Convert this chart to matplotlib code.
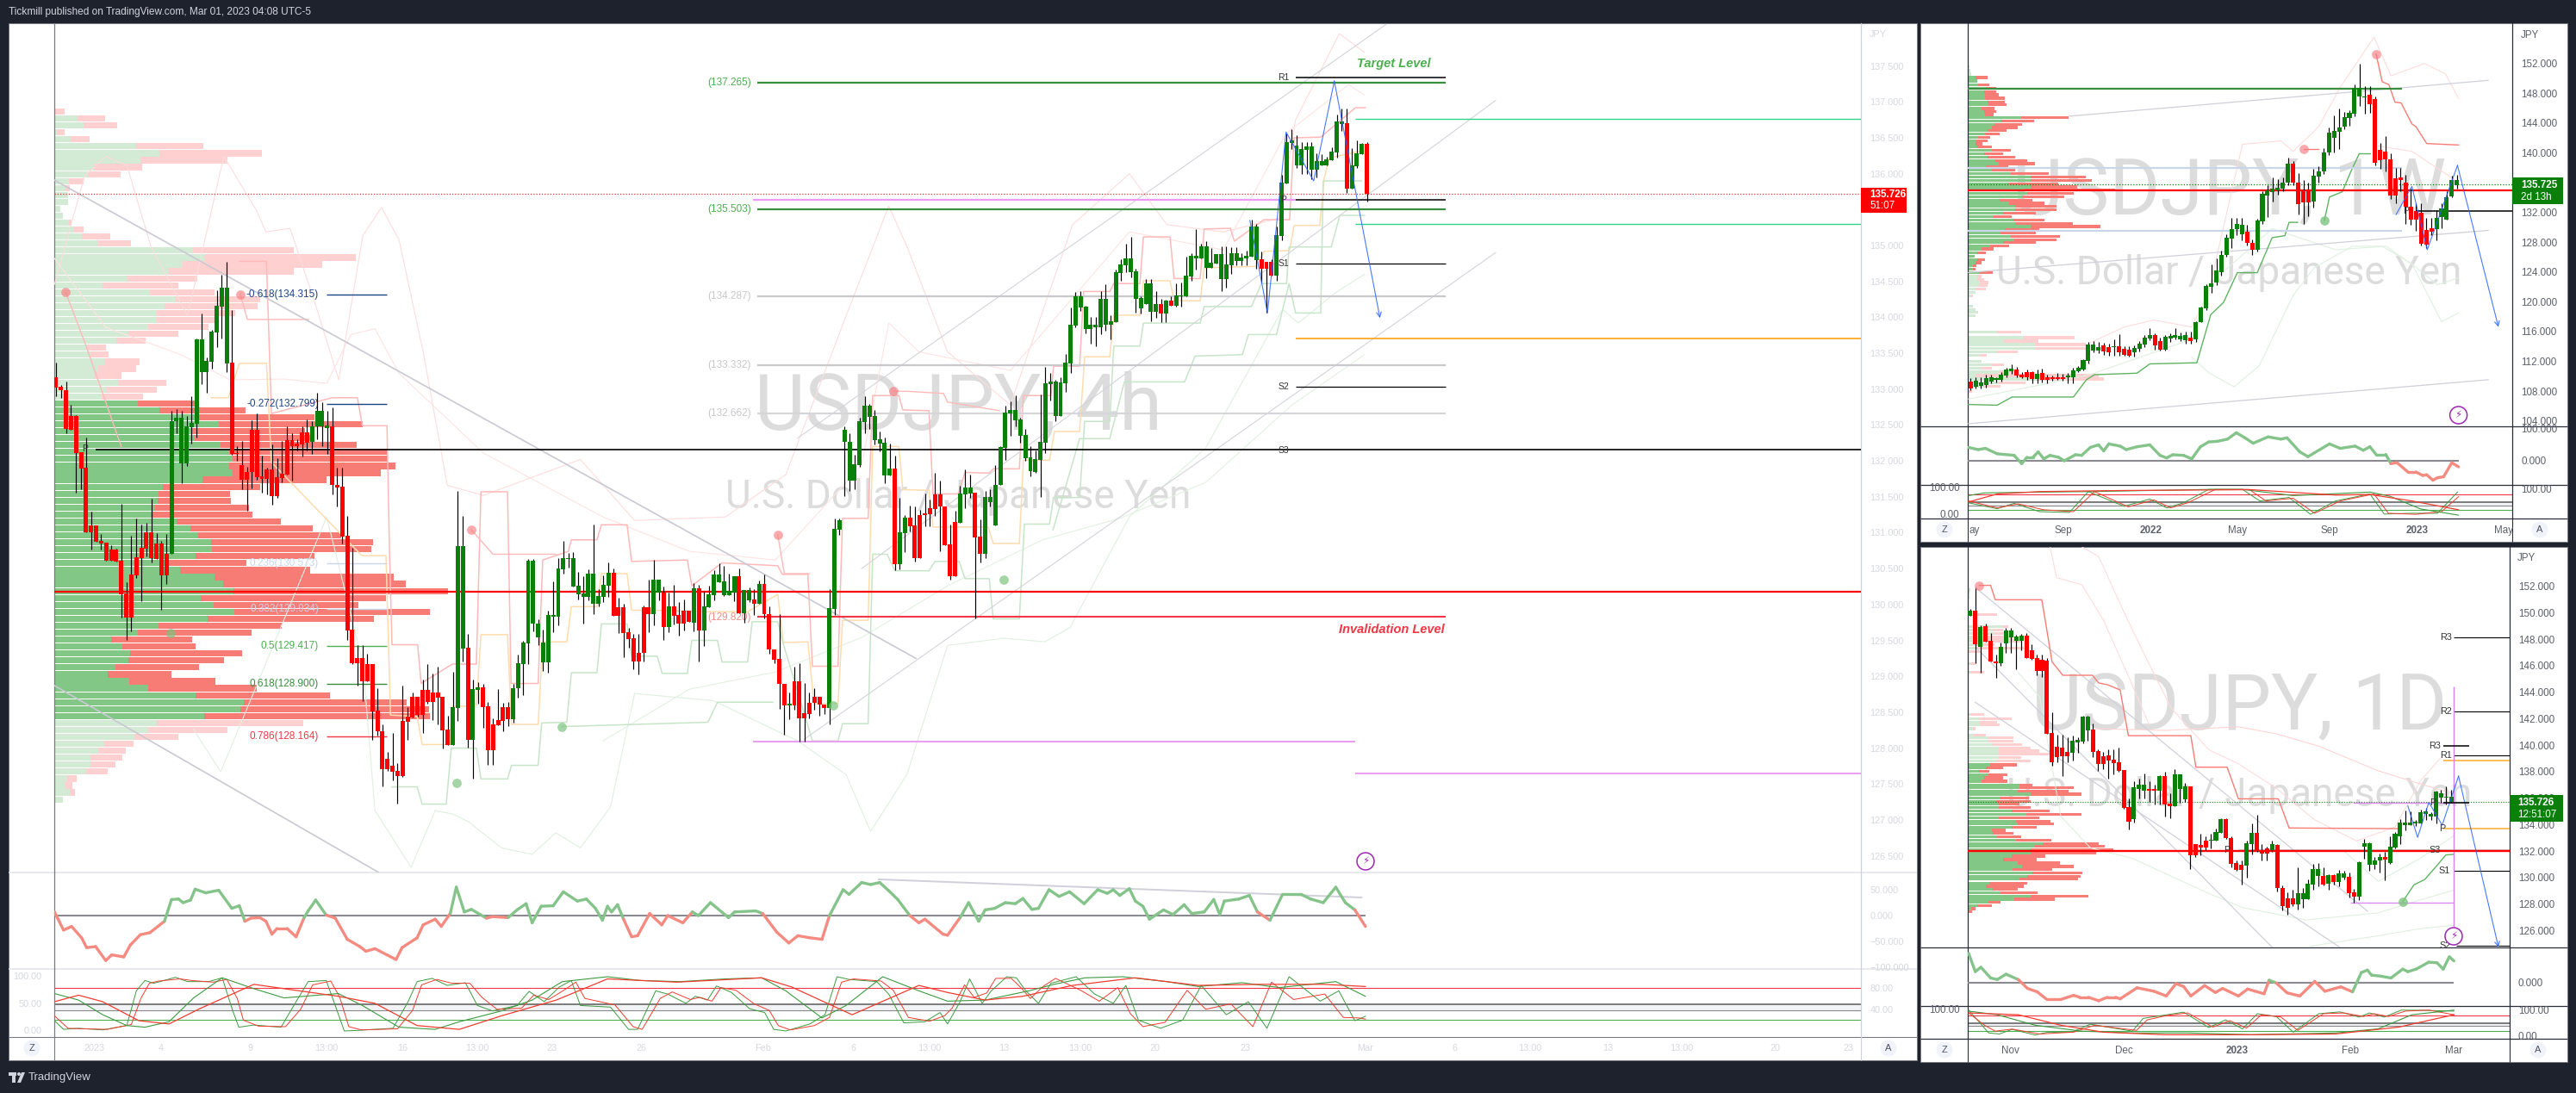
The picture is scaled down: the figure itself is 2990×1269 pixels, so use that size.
import numpy as np
import matplotlib
matplotlib.use("Agg")
import matplotlib.pyplot as plt
from matplotlib.collections import LineCollection
from matplotlib.patches import Rectangle, Circle, Polygon

W, H = 2990, 1269
plt.rcParams["font.family"] = ["Liberation Sans", "DejaVu Sans"]

# ---- 4h candles, one line = ten bars
open_4h = [
    133.17,133.03,132.99,132.62,132.62,132.12,131.9,131.1,131.1,130.88,
    130.86,130.77,130.77,130.61,130.15,130.42,130.66,130.79,131.0,131.0,
    130.85,130.85,130.7,130.7,132.55,131.97,131.97,132.47,132.52,133.24,
    133.24,133.38,133.79,134.15,133.36,133.37,132.11,131.94,131.85,132.43,
    132.43,131.78,131.88,131.88,131.77,131.82,132.29,132.29,132.24,132.4,
    132.4,132.26,132.48,132.48,132.46,132.48,131.67,131.64,130.96,129.65,
    129.25,129.25,129.17,129.17,128.52,128.24,127.85,127.76,127.68,128.38,
    128.44,128.71,128.71,128.81,128.81,128.78,128.78,128.71,128.26,128.04,
    128.56,129.39,129.4,128.12,128.81,128.85,128.58,128.33,128.39,128.57,
    128.57,128.4,128.84,129.17,129.46,129.74,129.54,129.19,129.19,129.83,
    129.83,130.49,130.63,130.25,130.14,130.11,130.11,130.01,130.01,130.11,
    130.26,130.44,129.96,129.96,129.61,129.53,129.33,129.96,129.96,129.87,
    130.17,130.17,129.69,129.98,129.85,129.91,129.91,129.75,130.22,129.64,
    129.96,130.13,130.31,130.13,130.13,130.17,130.39,129.88,130.06,130.07,
    130.01,130.29,129.87,129.38,129.24,128.9,128.6,128.93,128.93,128.49,
    128.63,128.71,128.71,128.61,128.56,129.94,131.04,132.27,131.73,131.73,
    131.94,132.54,132.61,132.29,132.24,131.8,131.8,131.89,130.56,130.99,
    131.21,131.1,131.25,131.27,131.34,131.53,131.53,131.37,130.84,131.15,
    131.14,131.53,131.54,131.56,130.95,130.71,131.42,131.1,131.66,132.18,
    132.66,132.56,132.35,132.04,131.86,131.85,132.01,132.25,133.07,132.62,
    132.62,133.08,133.36,133.89,134.14,133.84,133.84,133.86,133.86,133.9,
    133.9,133.93,134.62,134.72,134.63,134.26,134.12,134.19,134.08,134.08,
    134.18,134.05,134.23,134.16,134.29,134.29,134.57,134.82,134.82,134.69,
    134.69,134.75,134.53,134.53,134.72,134.79,134.79,134.82,134.85,134.8,
    134.81,134.77,134.77,134.58,135.13,135.87,136.43,136.12,136.12,136.33,
    136.06,136.06,136.12,136.12,136.19,136.3,136.69,136.7,135.79,136.11,
    136.27,136.42]
close_4h = [
    133.02,132.98,132.44,132.43,132.11,131.89,131.0,131.0,130.87,130.85,
    130.61,130.61,130.6,130.14,129.82,129.82,130.41,130.64,130.78,130.64,
    130.63,130.41,130.41,132.55,132.6,132.6,132.48,132.53,133.69,133.69,
    133.39,133.8,134.16,134.41,134.41,132.1,132.1,131.74,131.74,131.84,
    131.77,131.75,131.75,131.51,131.51,131.76,131.81,132.2,132.2,132.23,
    132.25,132.48,132.7,132.7,132.49,131.66,131.63,130.95,129.64,129.18,
    129.18,128.93,128.93,128.51,128.24,127.71,127.71,127.67,127.61,127.61,
    128.37,128.43,128.46,128.46,128.64,128.64,128.7,128.25,128.04,128.57,
    130.81,130.81,128.12,128.82,128.85,128.57,127.97,127.97,128.32,128.38,
    128.4,128.84,129.18,129.47,130.61,130.61,129.74,129.47,129.86,129.86,
    130.5,130.64,130.64,130.64,130.26,130.15,130.43,130.43,130.12,130.27,
    130.44,129.84,129.84,129.6,129.52,129.21,129.21,129.33,129.87,130.34,
    130.34,129.69,129.98,129.84,129.73,129.73,129.76,130.22,129.64,129.97,
    130.14,130.42,130.42,130.32,130.19,130.39,129.88,130.2,130.2,130.01,
    130.29,129.87,129.38,129.23,128.89,128.6,128.6,128.6,128.41,128.41,
    128.48,128.63,128.61,128.56,129.95,131.05,131.17,132.43,132.27,131.95,
    132.55,132.77,132.77,132.62,132.3,132.25,131.89,130.56,131.0,131.21,
    131.09,130.65,130.65,131.25,131.26,131.33,131.37,130.82,130.39,130.39,
    131.54,131.63,131.63,130.93,130.71,131.5,131.5,131.67,132.19,132.67,
    132.71,132.71,132.58,132.36,132.05,132.03,132.26,133.08,133.11,133.1,
    133.09,133.37,133.9,134.29,134.29,134.15,133.9,133.9,134.26,134.26,
    133.94,134.63,134.74,134.82,134.82,134.64,134.27,134.47,134.47,134.18,
    134.05,134.23,134.16,134.3,134.3,134.58,134.86,134.86,134.99,134.99,
    134.76,134.88,134.88,134.74,134.89,134.89,134.83,134.86,135.26,135.26,
    134.68,134.68,134.58,135.14,135.88,136.44,136.46,136.39,136.34,136.38,
    136.38,136.18,136.18,136.2,136.31,136.73,136.73,135.79,136.12,136.28,
    136.42,135.72]
high_4h = [
    133.37,133.06,133.1,132.78,132.64,132.12,132.33,131.29,131.1,130.98,
    130.86,130.82,130.78,131.4,130.31,130.96,131.2,131.11,131.14,131.47,
    130.99,130.89,130.98,132.7,132.72,132.7,132.62,132.9,133.71,134.05,
    133.44,133.82,134.38,134.59,134.77,134.1,132.21,132.28,131.92,132.57,
    132.66,132.07,131.9,132.23,132.04,132.28,132.48,132.38,132.3,132.48,
    132.58,132.55,132.95,132.82,132.7,132.75,131.9,131.9,131.23,130.79,
    129.44,129.43,129.31,129.17,128.83,128.33,127.95,128.21,127.79,128.87,
    128.57,128.77,128.71,128.96,129.17,129.04,129.13,128.71,128.45,129.06,
    131.58,131.23,129.59,128.96,128.92,128.9,128.64,128.41,128.82,128.63,
    128.64,128.89,129.3,129.49,130.63,130.63,129.79,129.65,129.91,130.32,
    130.64,130.88,130.72,130.73,130.45,130.39,130.49,131.11,130.21,130.4,
    130.58,130.5,130.1,130.01,129.67,129.59,129.59,129.99,130.34,130.62,
    130.34,130.25,130.17,130.27,130.03,130.07,129.91,130.3,130.27,130.19,
    130.26,130.48,130.57,130.54,130.43,130.39,130.5,130.2,130.24,130.21,
    130.33,130.42,129.97,129.38,129.87,128.9,128.78,129.14,129.18,128.91,
    128.77,128.83,128.71,128.61,130.21,131.2,131.2,132.48,132.38,132.09,
    132.6,132.9,132.79,132.71,132.41,132.32,132.24,132.07,131.49,131.24,
    131.38,131.37,131.32,131.54,131.46,131.83,131.73,131.37,131.11,131.31,
    131.65,131.88,131.81,131.56,131.19,131.58,131.6,131.94,132.21,132.77,
    132.83,132.91,132.6,132.45,132.2,132.15,132.92,133.31,133.23,133.13,
    133.17,133.49,134.14,134.35,134.36,134.16,134.0,134.01,134.36,134.46,
    134.03,134.66,134.81,135.03,135.12,134.68,134.29,134.53,134.53,134.36,
    134.26,134.24,134.29,134.47,134.49,134.84,134.89,135.23,135.03,135.06,
    134.97,134.88,134.99,134.99,134.98,134.98,134.89,134.93,135.36,135.3,
    134.92,134.77,134.81,135.26,135.98,136.56,136.62,136.54,136.44,136.44,
    136.44,136.28,136.27,136.24,136.37,136.83,136.91,136.91,136.36,136.47,
    136.43,136.44]
low_4h = [
    132.9,132.88,132.39,132.43,131.56,131.6,131.0,130.77,130.87,130.76,
    130.61,130.61,130.6,129.82,129.51,129.63,130.37,130.05,130.67,130.58,
    130.63,129.93,130.29,130.7,132.39,131.69,131.93,132.24,132.33,133.07,
    132.95,133.28,133.59,133.7,133.24,132.09,132.0,131.6,131.31,131.62,
    131.74,131.56,131.53,131.39,131.49,131.7,131.81,131.72,132.15,132.06,
    132.14,132.1,132.3,132.2,132.1,131.53,131.36,130.85,129.51,129.17,
    128.87,128.65,128.93,128.12,128.17,127.47,127.68,127.55,127.23,127.6,
    128.12,128.43,128.44,128.21,128.62,128.39,128.33,128.0,128.04,128.04,
    128.38,129.21,128.01,127.58,128.62,128.28,127.77,127.77,128.32,128.24,
    128.31,128.35,128.7,128.74,129.17,129.63,129.44,129.07,129.05,129.61,
    129.71,130.43,130.51,130.25,130.07,129.73,130.06,129.87,129.97,130.03,
    130.11,129.84,129.6,129.27,129.4,129.1,129.03,129.21,129.62,129.71,
    130.06,129.51,129.61,129.72,129.57,129.64,129.76,129.63,129.21,129.42,
    129.96,130.06,130.31,130.12,130.13,130.05,129.88,129.75,130.04,129.86,
    130.01,129.81,129.31,129.18,128.55,128.19,128.4,128.54,128.09,128.09,
    128.42,128.53,128.45,128.48,128.33,129.85,130.97,131.51,131.58,131.6,
    131.92,132.38,132.45,132.23,132.13,131.69,131.8,130.48,130.49,130.73,
    131.02,130.6,130.65,131.09,131.09,131.23,130.74,130.82,130.35,130.39,
    131.14,131.34,131.48,129.81,130.59,130.64,131.37,131.1,131.66,132.01,
    132.35,132.48,132.25,132.0,131.79,131.83,131.5,132.11,132.84,132.55,
    132.62,132.96,133.22,133.86,134.09,133.78,133.63,133.6,133.77,133.81,
    133.69,133.93,134.51,134.63,134.56,134.06,134.05,134.19,133.95,133.99,
    133.93,133.93,134.16,134.15,134.15,134.29,134.51,134.67,134.82,134.55,
    134.69,134.75,134.37,134.41,134.6,134.73,134.73,134.73,134.84,134.68,
    134.48,134.06,134.58,134.51,135.07,135.87,136.34,136.08,136.0,136.0,
    135.93,135.95,136.12,136.12,136.19,136.22,136.6,135.73,135.79,136.08,
    136.27,135.61]

# volume profile of the 4h chart, top row first
profile_4h_up = [
    0,27,34,3,19,95,122,100,46,39,17,13,16,16,7,10,17,23,32,51,161,175,149,132,84,56,110,140,128,118,
    118,109,86,72,39,42,58,51,46,74,60,55,97,122,167,191,160,163,193,203,207,203,207,172,126,121,120,117,112,142,
    158,167,182,183,164,132,146,186,196,208,170,185,209,178,121,97,66,79,88,86,71,62,87,109,164,220,216,174,
    119,109,93,58,51,42,42,37,15,13,18,10]
profile_4h_total = [
    12,59,73,12,41,173,241,201,102,77,34,18,16,16,7,10,20,34,65,89,278,350,311,278,166,144,186,239,236,210,
    189,179,144,106,60,63,99,95,78,130,119,103,168,222,302,358,291,302,351,386,387,396,379,316,239,204,205,226,230,263,
    300,333,370,368,302,223,297,394,408,457,385,353,436,371,264,229,160,164,218,197,168,136,187,235,320,409,435,436,
    289,201,144,92,83,79,71,62,26,21,24,10]
profile_4h_price = np.linspace(136.866, 127.285, 100)

# step and envelope lines of the 4h chart (bar, price)
step_red_bar = [36.5,41.9,42.9,55,60,61,65.9,66.4,66.9,72,72.7,78.9,83.7,84.6,89.9,90.6,96,96.9,102,102.6,107.7,108.6,113.7,114.6,125.7,126.6,132.6,143.7,144.6,149.7,150.6,155.7,156.6,161.7,162.6,167.8,168.6,173.8,174.6,179.6,181,185.8,186.6,191.8,192.6,198.1,198.6,203.8,204.6,209.8,210.6,215.8,216.5,221.8,222.6,227.8,228.6,233.8,234.6,240.5,245.6,246.5,251.8,258.7,260.7]
step_red_price = [134.78,134.78,132.66,132.88,132.88,132.49,132.49,130.74,129.44,129.44,128.9,129.17,129.17,131.57,131.57,128.9,128.9,130.62,130.74,130.9,130.9,131.11,131.11,130.6,130.62,130.26,130.58,130.54,130.42,130.42,129.14,129.14,131.2,131.2,132.91,132.91,132.71,132.7,131.54,131.54,131.84,131.83,131.89,131.89,132.91,132.91,133.32,133.32,134.36,134.36,134.47,134.47,135.12,135.12,134.54,134.54,135.23,135.24,135.06,135.36,135.36,136.5,136.51,136.92,136.92]
step_orange_bar = [30.9,34.3,36.5,41.9,42.9,60.9,65.7,66.6,71.9,72.9,78.4,78.9,83.7,84.6,89.9,90.7,96,96.9,101.7,102.6,107.7,108.6,113.7,114.6,119.7,130,137.7,143.7,144.8,149.7,150.9,155.7,156.6,161.7,162.6,167.8,168.6,173.8,174.6,185.6,186.6,191.8,192.6,197.8,198.8,203.8,204.8,209.8,210.6,215.8,216.5,221.8,222.6,227.8,228.6,238.9,240.6,245.6,246.5,251.6,252.5,253.5,258.7,260.7]
step_orange_price = [132.88,132.88,133.36,133.36,131.98,130.68,130.68,128.46,128.44,128.05,128.05,128.58,128.59,129.58,129.58,128.33,128.33,129.48,129.48,129.97,129.97,130.43,130.43,129.92,129.92,129.9,129.9,130.14,129.47,129.48,128.62,128.62,129.78,129.78,132.2,132.2,131.6,131.59,131.08,131.08,130.85,130.85,132.01,132.01,132.41,132.41,133.45,133.45,134.03,134.03,134.51,134.51,134.23,134.23,134.69,134.71,134.92,134.93,135.28,135.28,135.94,136.22,136.3,136.32]
step_green_bar = [66.9,71.9,72.9,77.7,78.7,83.7,84.6,89.9,90.7,96,96.7,101.7,102.6,107.7,108.6,113.7,114.6,119.7,120.7,125.7,126.6,131.7,132.6,137.7,138.6,143.7,144.6,150.6,155.7,156.6,161.7,162.6,165.5,167,173.8,175,179.8,181,185.8,186.6,191.8,192.8,197.8,198.6,203.8,204.8,209.8,210.6,215.8,216.5,227.8,228.6,238,240,245,245.5,253.9,255.6,260.5]
step_green_price = [127.46,127.46,127.22,127.22,128.0,128.0,127.57,127.57,127.76,127.76,128.35,128.36,129.05,129.05,129.73,129.73,129.28,129.28,129.04,129.04,129.5,129.5,129.2,129.2,129.76,129.76,129.5,128.1,128.1,128.34,128.34,130.7,130.7,130.47,130.47,130.6,130.6,130.36,130.36,129.8,129.8,131.12,131.12,131.49,131.49,132.55,132.55,133.6,133.6,133.92,133.92,134.15,134.15,134.47,134.47,134.98,134.98,135.42,135.42]
trail_green_bar = [198.5,203.8,209.8,212.7,224.7,226.8,236.2,237.4,243,245.5,246.8,251.8,252.3,259.9]
trail_green_price = [131.04,132.31,132.31,133.1,133.1,133.46,133.48,133.76,133.76,134.47,134.06,134.06,135.9,135.9]
stop_green_bar = [100.7,129.8,131.7,142.7]
stop_green_price = [128.3,128.36,128.64,128.64]
stop_red_segments_bar = [[1.9,3.3,6,13],[36.7,38.1,50.3],[82.7,87,99.5],[143.7,145,150],[166.7,169.3,176.7,177.5,187.8]]
stop_red_segments_price = [[134.35,134.1,133.6,132.2],[134.32,133.97,133.97],[131.04,130.7,130.7],[130.97,130.43,130.43],[132.97,132.97,132.94,132.82,132.7]]
env_pink1_bar = [-0.3,5.7,9.9,14.1,18.9,26.2,33.4,40,41.8,46.6,51.5,56.3,61.1,64.8,68.3,73.1,77.9,85.1,104.4,115.2,133.3,145.3,157.3,165.8,169.4,177.5,190,202.4,213.7,221.2,232.4,243.5,246.8,255.5,260.5]
env_pink1_price = [134.46,135.97,136.24,136.12,134.99,134.02,136.24,135.48,135.19,135.24,134.21,133.13,135.14,135.53,135.08,133.52,131.66,131.52,132.02,131.17,131.22,131.81,134.02,135.55,134.99,133.52,132.78,135.29,136,135.29,135.19,135.38,136.75,137.95,137.69]
env_pink2_bar = [-0.3,9.9,24.9,34.6,45.4,53.9,58.7,63.5,68.3,85.1,108.9,126.1,143.2,160.4,165.8,171.8,190,213.7,232.4,244.9,257.3,260.5]
env_pink2_price = [134.82,133.86,133.48,133.13,133.14,133.08,133.76,133.84,133.22,132.11,131.22,130.74,130.62,131.94,133.92,133.52,133.26,135.19,134.94,136.56,137.24,137.1]
env_green1_bar = [27.4,32.8,53.9,61.1,63.5,70.7,75.5,79.1,82.2,88.7,94.8,99.5,104.4,110.4,115.2,130.9,147.7,157.3,162.2,169.4,177.5,188.7,196.9,201.9,213.7,228.9,244.2,247.3,254.9,260.5]
env_green1_price = [128.26,127.67,131.22,129.18,127.13,126.34,127.13,127.08,126.97,126.61,126.52,126.82,126.61,127.18,128.76,128.66,128.1,127.63,126.84,127.63,129.43,129.53,129.48,129.68,131.22,132.18,134.11,133.92,134.35,134.6]
env_green2_bar = [108.9,126.1,143.2,160.4,177.5,196.4,211.8,228.9,246.1,260.5]
env_green2_price = [128.1,128.82,129.06,129.54,130.26,130.9,131.2,131.7,132.78,133.48]
dots_red_bar = [1.9,36.7,82.7,143.7,166.7]
dots_red_price = [134.35,134.32,131.04,130.97,132.97]
dots_green_bar = [22.8,79.8,100.7,154.7,188.7]
dots_green_price = [129.6,127.52,128.3,128.59,130.34]

# drawings on the 4h chart
trend_bars = [[-0.3,171.2],[-0.3,64.2],[147.7,264.8],[160.4,286.6],[148.9,286.6]]
trend_prices = [[135.91,129.25],[128.87,126.27],[132.32,138.08],[130.5,137.02],[128.12,134.9]]
path_bars = [237.7,241.2,244.9,250.4,254.5,263.6]
path_prices = [135.35,134.06,136.58,135.9,137.29,133.99]
fib_labels = ["-0.618(134.315)","-0.272(132.799)","0.236(130.573)","0.382(129.934)","0.5(129.417)","0.618(128.900)","0.786(128.164)"]
fib_prices = [134.315,132.799,130.573,129.934,129.417,128.900,128.164]
fib_colors = ["#1c4587","#1c4587","#c9d6ea","#c9d6ea","#4caf50","#388e3c","#f23645"]
box_labels = ["(137.265)","(135.503)","(134.287)","(133.332)","(132.662)"]
box_prices = [137.265,135.503,134.287,133.332,132.662]
box_colors = ["#388e3c","#388e3c","#c8c8cc","#c8c8cc","#d6d6da"]
box_text_colors = ["#4caf50","#4caf50","#c8c8cc","#c8c8cc","#c8c8cc"]

# oscillators of the 4h chart (bar, value)
cci_4h_bar = [-0.3,1.5,3.1,5.1,6.1,7.9,9.9,11.1,13.5,14.8,16.8,18.7,21.6,23,24.4,25.3,26.8,27.7,29.8,32.4,35,36.5,37.6,38.8,40.6,41.8,43,44,46,47.8,49.4,50.2,51.7,53.8,55.6,58,60.5,61.7,63.5,65.9,67.7,68.9,71.9,73.1,75.5,76.7,78.5,79.7,81.3,82.7,85.7,86.9,90,91.8,93.6,94.8,96.6,99,101,103.8,105.6,107.4,108.8,109.8,110.6,111.8,113,114.6,115.8,118.2,120.6,121.8,124.8,126.7,127.9,130.3,133.9,135.1,139.3,140.7,143.5,145.9,147.7,150.1,152.5,154,156.7,157.9,160.4,162.2,164,165.8,167.6,170,171.8,173,176.6,177.5,180,181.7,183.7,185,186.9,189,191,192.5,194.3,195.6,197.7,199.7,201.8,204.7,207.4,209.3,210.5,211.8,213.7,214.9,216.4,217.7,220.5,222.4,224.6,226.1,228.6,230.5,231.7,232.6,235.5,237.6,239.2,241.7,244.2,247.9,249.8,252.3,254.8,256.7,258.6,260.7]
cci_4h_value = [7,-28,-21,-43,-62,-60,-87,-76,-80,-57,-37,-33,-11,31,32,25,30,51,44,49,14,19,-11,-5,-4,-11,-36,-25,-25,-41,-4,9,30,1,-5,-46,-60,-69,-64,-76,-85,-62,-43,-18,-7,-21,4,55,7,12,-5,-2,-4,11,23,-14,18,19,46,28,32,14,-9,18,7,21,-7,-41,-39,4,-18,0,-14,7,0,25,-4,7,9,4,-32,-53,-39,-43,-46,0,50,41,64,60,64,48,31,0,-14,-7,-36,-38,-4,25,-11,11,14,25,23,33,12,14,50,37,46,23,50,43,50,39,52,28,18,-7,11,2,21,4,7,31,2,28,32,39,7,-9,41,41,32,25,55,25,11,-21]
fast_g_bar = [-0.3,1.5,4.5,9.3,14.1,16,17.7,19.5,23.8,26.2,30.4,33.1,35.2,36.4,39.4,44.8,47.8,50.2,53.8,55.6,57.4,59.9,67.1,70.1,71.9,74.9,77.9,81.5,83.9,86.9,91.8,94.2,97.2,100.2,102.6,104.4,110.4,114,115.8,119.4,121.8,125.4,127.3,129.7,131.5,134.5,138.1,141.1,142.9,145.3,150.1,153.1,155.5,157.9,163.4,165.8,168.8,173,176,177.5,180,181.9,184.4,186.2,189.3,191.2,193.1,195.6,198.1,203.1,206.8,210.5,213,215.5,219.9,224.3,228,233,237.4,241.1,245.5,251.7,255.4,258.6,260.7]
fast_g_value = [19,3,5,2,10,74,93,88,99,91,91,98,37,7,11,7,54,91,93,47,0,1,5,54,91,97,84,89,47,37,47,73,54,81,93,47,44,3,3,74,68,51,64,57,83,71,41,34,3,0,13,30,100,95,91,68,15,17,34,13,54,96,51,74,100,98,74,51,88,100,68,51,84,20,5,20,84,30,54,5,100,55,74,19,27]
fast_r_bar = [-0.3,2.4,5.4,10.2,15,16.9,18.6,20.4,24.7,27.1,31.3,34,36.1,37.3,40.3,45.7,48.7,51.1,54.7,56.5,58.3,60.8,68,71,72.8,75.8,78.8,82.4,84.8,87.8,92.7,95.1,98.1,101.1,103.5,105.3,111.3,114.9,116.7,120.3,122.7,126.3,128.2,130.6,132.4,135.4,139,142,143.8,146.2,151,154,156.4,158.8,164.3,166.7,169.7,173.9,176.9,178.4,180.9,182.8,185.3,187.1,190.2,192.1,194,196.5,199,204,207.7,211.4,213.9,216.4,220.8,225.2,228.9,233.9,238.3,242,246.4,252.6,256.3,259.5,260.7]
fast_r_value = [28,5,4,3,12,60,88,92,96,93,90,95,60,20,9,8,40,85,92,62,8,2,4,38,85,95,88,88,62,40,42,66,58,75,90,60,48,8,3,60,72,58,62,55,80,75,50,38,10,2,10,25,90,96,92,75,25,18,28,42,85,62,70,97,97,80,60,82,97,75,55,80,32,8,16,75,40,50,8,90,58,68,25,24,22]
slow_g_bar = [-0.3,4.5,9.3,14.1,17.7,22.5,27.4,33.1,39.4,45.4,56.2,61,68.3,75.5,80.3,88.7,94.8,100.8,109.8,116.4,124.2,133.3,140.5,145.3,152.5,157.3,164.6,171.8,177.5,185,193.7,198.7,204.9,212.4,221.1,227.4,236.1,243.6,254.8,260.7]
slow_g_value = [69,57,30,10,7,17,61,98,78,61,69,47,7,3,17,37,57,91,100,93,91,96,98,74,24,47,100,74,55,57,74,86,98,100,91,82,89,80,91,64]
slow_r_bar = [-0.3,4.5,9.3,16.5,22.5,28.6,39.4,45.4,56.2,63.5,71.9,80.3,88.7,99.6,109.8,123.6,140.5,146.5,158.5,171.8,177.5,185,192.5,202.4,214.9,227.4,239.9,252.3,260.7]
slow_r_value = [54,66,54,19,13,41,86,78,64,51,10,3,28,57,96,90,98,81,30,84,71,57,64,84,98,84,86,86,82]

# ---- weekly candles
open_1w = [
    109.3,108.6,108.7,108.8,109.3,109.5,109.5,110.1,110.7,110.95,
    110.2,110.55,110.55,109.6,110.4,109.8,109.8,109.8,109.85,109.85,
    109.9,110.65,110.95,112.1,113.45,113.4,114.15,113.9,113.85,114,
    113.7,113.55,113.2,113.7,114.25,115.1,115.5,114.7,113.5,115.1,
    115.2,115,114.85,115.2,114.95,117.3,119.1,121.95,122.55,124,
    126.3,128.5,129.7,129.1,129.35,127.9,127,130.85,134.3,134.75,
    135,135.15,135.95,138.55,136.05,135,135.1,133.5,136.8,137.45,
    140.05,142,142.8,143.5,144.7,145.3,147.6,147.4,147.75,147.2,
    140.35,140.2,139.15,136.55,136.65,135.95,132.8,132.15,131.9,129.6,
    129.85,129.7,131.4,131.05,134.2,135.7]
close_1w = [
    108.4,109.4,109.2,109.75,109.85,109.75,110.2,110.85,111.05,110.1,
    109.9,109.9,109.6,110.3,109.5,109.5,109.6,109.6,109.65,110.05,
    110.75,111.1,112.15,114.25,114.25,113.95,113.35,113.2,114.0,113.2,
    112.85,112.75,113.75,114.35,115.2,115.5,114.15,113.5,115.3,115.35,
    115.5,115.4,115.55,114.7,117.3,119.2,122.1,122.5,124.25,126.3,
    128.6,129.8,130.5,130.3,127.85,127,130.9,134.45,135,135.15,
    135.25,136.05,138.55,136.05,133.15,133.35,133.35,136.9,137.5,140.1,
    142.7,142.95,143.35,144.8,145.4,148.7,148.7,147.6,146.5,138.65,
    139,139.15,134.3,134.3,136.4,132.75,131,131,127.8,127.7,
    129.45,131.25,132.5,134.05,136.4,136.4]
high_1w = [
    109.75,109.9,109.8,110.2,110.2,109.9,110.5,111.1,111.6,111.2,
    110.6,110.9,110.7,110.9,111,110.2,110.1,110.4,110.3,110.4,
    111.1,111.4,112.3,114.6,114.7,114.6,114.5,114.4,115,115.6,
    114,114,114.1,114.7,115.5,116.4,115.7,115.2,115.5,115.7,
    116.4,115.9,116,116,117.4,119.3,122.4,125,125.8,126.9,
    129.1,131.2,131.2,131.3,130.3,128.4,131.1,134.8,135.7,136.7,
    136.5,136.7,139.4,138.9,137.3,136.3,136,137.9,138.2,140.6,
    143.4,145,145.9,145.5,145.7,149.2,151.95,149,149,147.6,
    141.3,142.2,139.9,138,138,137,135.2,133.2,133.2,131.2,
    131.2,132.3,133.2,134.8,136.9,137]
low_1w = [
    108.1,108.4,108.4,108.5,109,109.2,109.3,109.8,110.3,109.8,
    109.7,109.5,109.1,109.1,109.2,109.1,109.4,109.5,109.4,109.1,
    109.1,110.5,110.8,111.7,113.2,113.1,112.9,112.7,112.8,112.8,
    112.7,112.6,112.6,113.3,113.9,114.8,113.6,113.4,113.4,114.6,
    115,114.7,114.4,114.4,114.6,117.2,118.9,121.2,122.2,123.5,
    126.1,127.2,128.9,128.2,127.6,126.3,126.8,130.4,131.4,133.5,
    134.4,134.8,135.6,135.7,131.7,130.5,131.5,132.7,136,137.1,
    139.7,140.1,140.5,143.2,143.6,144.9,146.3,145.2,145.4,138.3,
    137.9,137.5,133.8,133.2,134.8,130.5,130.3,129.5,127.5,127.2,
    128.9,128.2,129.9,131,134,135.2]
profile_1w_price = [151.52,151.05,150.58,150.11,149.64,149.16,148.69,148.22,147.8,147.32,146.85,146.43,145.96,145.53,145.15,144.73,144.26,143.83,143.41,142.98,142.51,142.04,141.61,141.19,140.76,140.34,139.87,139.4,138.92,138.55,138.12,137.65,137.22,136.75,136.28,135.86,135.43,135.01,134.53,134.11,133.64,133.21,132.79,132.32,131.89,131.42,130.95,130.52,130.1,129.67,129.25,128.78,128.3,127.93,127.5,127.08,126.61,126.09,125.66,125.24,124.81,124.39,123.92,123.4,122.97,122.59,122.17,121.7,121.27,120.8,120.33,119.9,119.43,118.96,118.58,118.11,117.64,117.17,116.6,115.89,115.19,114.71,114.24,113.77,113.3,112.83,112.02,111.5,111.03,110.56,110.09,109.62,109.14,108.67,107.96]
profile_1w_up = [2,3,4,9,11,12,21,19,20,20,23,24,16,19,20,62,39,31,28,23,20,12,10,9,11,28,19,23,32,36,21,28,50,73,73,48,73,65,69,63,37,48,55,55,41,30,53,55,73,43,38,50,54,41,26,16,11,8,11,9,6,6,14,11,11,14,13,9,9,4,1,1,6,9,11,9,1,1,1,34,65,42,78,78,34,14,16,28,16,38,9,82,36,19,1]
profile_1w_total = [2,3,4,23,11,25,33,33,36,43,43,45,31,33,30,117,77,63,58,45,37,26,23,17,28,50,41,55,69,78,47,55,94,137,144,105,127,171,123,112,75,89,103,103,79,51,89,122,154,83,79,107,103,79,48,30,21,8,20,16,10,9,29,16,19,24,23,21,9,6,1,1,6,9,12,9,1,1,1,62,124,82,137,137,58,22,16,42,28,58,152,158,67,38,5]
stop_1w_red_bar = [79.2,80.4,81.7,82.9,84.1,86.2,87,89.1,95.3]
stop_1w_red_price = [153.27,149.54,149.16,146.8,146.7,143.88,143.5,141.24,141.05]
stop_1w_green_bar = [-0.4,5.2,8.1,20.1,22.6,24.2,32.5,35,44.2,46.9,49.4,52.1,56,58.9,61.4,62.2,63.9]
stop_1w_green_price = [106.2,106.1,107.2,107.2,109.5,110.2,110.4,111.65,111.8,118.25,119.9,123.9,123.9,128.6,128.87,130.66,130.66]
stop_1w_green2_bar = [69.1,70.1,72.6,74.2,75.9,78.1]
stop_1w_green2_price = [130.9,134.06,134.77,137.36,139.87,139.87]
env_1w_pink_bar = [23.4,30,35.8,43.2,46.5,53.1,60.6,63,68,72.1,78.8,82.1,88.7,92.8,95.3]
env_1w_pink_price = [114.48,116.6,117.55,116.6,121.32,141.14,141.61,140.2,143.5,148.69,155.53,150.34,152,150.58,147.28]
env_1w_pink2_bar = [79.6,86.2,94.5]
env_1w_pink2_price = [140.9,140.2,136.4]
env_1w_green_bar = [-0.4,13.5,23.4,43.2,46.5,58.9,71.3,81.2,87,91.2,95.3]
env_1w_green_price = [106.93,108.8,110.23,114.95,122.27,129.81,126.98,127.45,124.62,122.27,123.2]
env_1w_green2_bar = [43.2,46.5,51.5,56.4,63,67.2,74.6,80.4,86.2,92,95.3]
env_1w_green2_price = [112.59,110.47,108.58,111.41,120.85,124.62,127.45,127.45,125.1,117.31,118.49]
trend_1w_bars = [[19.3,101.1],[-0.4,101.1],[-0.4,101.1]]
trend_1w_prices = [[144.92,149.73],[123.92,129.58],[103.62,109.52]]
path_1w_bars = [83.1,86.2,89.2,95.1,103.1]
path_1w_prices = [131.7,135.48,126.98,138.31,116.6]
cci_1w_bar = [-0.4,1.5,2.9,5.2,8.5,10,11,12.2,13.2,14.3,15.5,17.2,18.3,20.5,21.7,23.4,25,26,27,29.2,30.4,32.5,35,37,38.3,39.5,41.6,43.2,44.9,46.5,48.2,50.2,51.9,53.6,55.2,58.1,60.6,61.8,64.3,65.9,70.1,72.2,75.1,76.7,78,79.2,81.1,82.1,83.3,85.4,87,88.3,89.1,90.3,91.2,92.4,94,95.3]
cci_1w_value = [42,35,39,22,17,-9,11,11,28,6,17,11,0,19,17,42,50,31,53,46,35,44,50,17,9,19,17,6,44,59,61,68,88,72,55,75,68,72,28,13,53,39,46,33,44,20,20,-9,-6,-35,-35,-46,-44,-61,-53,-50,-6,-19]
stoch_1w_fg_bar = [-0.4,5.2,8.5,13.5,19.3,23,30,35,38.3,41.6,46.5,53.1,56.5,62.2,66.4,71.3,78,80.8,86.2,91.2,95.1]
stoch_1w_fg_value = [47,25,45,14,11,89,34,61,28,47,97,97,54,67,4,54,80,5,8,8,87]
stoch_1w_fr_bar = [-0.4,5.2,9.3,14.3,20.1,24.2,30.8,35.8,39.1,42.4,47.8,54.4,57.7,63,67.2,72.2,78.8,81.6,87,92,95.3]
stoch_1w_fr_value = [54,28,43,21,14,89,32,58,28,47,97,97,54,64,8,54,80,8,4,14,70]
stoch_1w_sg_bar = [-0.4,2.7,13.5,23.4,46.5,53.1,63,78,82,87.9,95.3]
stoch_1w_sg_value = [74,84,87,89,97,97,74,87,71,24,1]
stoch_1w_sr_bar = [-0.4,5.2,13.5,30,54.8,71.3,78,86.2,95.3]
stoch_1w_sr_value = [50,80,89,93,96,76,78,54,21]

# ---- daily candles
open_1d = [
    149.78,150.17,147.44,148.98,147.87,146.28,146.2,147.66,148.13,147.84,
    147.84,148.27,147.15,146.54,146.41,146.36,140.92,139.84,139.84,139.47,
    139.44,140.18,140.24,141.11,141.19,139.52,139.18,139.25,138.91,138.67,
    138.11,135.33,134.43,136.68,136.53,136.66,136.68,136.53,137.66,135.6,
    135.36,136.66,135.92,136.9,132.5,132.44,132.76,132.76,132.79,133.4,
    134.4,132.97,131.09,130.99,130.93,132.55,133.37,132.05,132.18,132.1,
    132.44,129.18,128.44,128.44,127.99,128.39,128.39,129.45,130.11,130.11,
    129.5,130.16,129.66,129.98,130.06,128.89,128.57,132.34,130.96,130.96,
    131.3,131.52,131.07,132.28,133.11,133.93,133.93,134.11,134.11,134.83,
    134.62,134.62,136.02,136.05,135.68]
close_1d = [
    150.17,147.6,148.93,147.82,146.28,146.2,147.44,148.66,148.66,148.21,
    148.27,146.6,146.52,145.59,145.59,140.85,138.73,139.07,139.18,139.18,
    140.32,140.37,142.12,142.12,139.49,138.59,138.54,138.86,138.65,138.06,
    135.28,134.22,136.79,137,137,136.53,136.53,137.66,135.54,135.41,
    137.8,137.8,136.87,131.65,131.65,132.28,132.28,132.84,133.42,134.4,
    132.95,131.04,130.56,130.56,132.6,133.37,132.02,131.83,131.83,132.5,
    129.18,127.81,127.73,127.99,128.79,128.84,129.53,130.64,130.64,129.45,
    130.16,129.63,130.32,130.32,128.84,128.57,131.17,132.6,132.6,131.3,
    131.52,131.36,132.31,133.29,134.17,134.17,134.17,134.22,134.96,135.01,
    134.83,136.47,136.39,136.07,136.07]
high_1d = [
    150.3,151.9,149.06,149.14,148.45,146.86,147.74,148.85,148.85,148.35,
    148.4,148.45,147.6,146.86,146.81,146.54,142.49,140.77,140.77,140.58,
    140.71,140.58,142.22,142.22,141.64,139.65,139.47,139.65,139.65,139.84,
    138.11,135.94,137.27,137.48,137.85,137.27,137,137.74,137.98,136.34,
    138.2,137.8,137.13,136.9,132.5,133.29,133.08,133.29,133.69,134.48,
    134.48,133.08,131.3,131.3,132.76,134.09,134.75,132.5,132.36,132.81,
    132.5,129.4,128.87,129.05,130.77,129.18,129.85,131.04,131.12,130.77,
    130.24,130.24,130.59,130.51,130.38,129.13,131.22,132.89,132.68,131.57,
    131.83,131.97,133.08,133.42,134.4,135.09,135.01,134.35,135.15,135.28,
    134.93,136.53,136.6,136.87,136.6]
low_1d = [
    149.78,146.15,145.48,147.82,146.28,145.09,146.01,146.94,146.94,145.7,
    147.13,146.54,146.46,145.27,145.17,140.85,138.46,138.73,137.67,138.73,
    138.8,139.39,140.13,140.32,139.12,138.06,138.19,137.48,137.8,138,
    135.2,133.64,134.17,135.99,135.99,135.68,135.54,135.54,134.62,134.48,
    135.36,135.62,135.68,130.64,131.57,131.7,132.1,132.23,132.76,133.4,
    132.9,130.77,130.51,129.45,129.98,131.75,131.97,131.3,131.3,131.97,
    128.92,127.51,127.2,127.86,127.59,127.73,128.34,129.05,129.32,129.37,
    129.05,129.45,129.32,129.85,128.47,128.12,128.31,131.44,130.51,130.64,
    130.38,129.79,131.04,132.23,132.5,133.56,133.93,133.87,134.09,134.35,
    134.35,134.09,135.62,135.54,135.62]
profile_1d_price = [151.71,151.45,151.18,149.86,148.93,148.66,148.4,148.13,147.87,147.6,147.34,147.07,146.15,145.48,142.3,141.99,141.72,141.51,141.24,140.77,140.55,140.29,140.05,139.78,139.55,139.31,139.07,138.8,138.51,138.27,138.04,137.77,137.53,137.27,137,136.79,136.53,136.29,136.02,135.76,135.55,135.28,135.01,134.75,134.51,134.27,134.03,133.79,133.56,133.32,133.08,132.84,132.58,132.34,132.1,131.86,131.62,131.36,131.09,130.83,130.59,130.35,130.11,129.87,129.58,129.34,129.1,128.87,128.6,128.36,128.12,127.88,127.65,127.41]
profile_1d_up = [3,2,2,9,41,29,31,19,14,9,9,2,4,4,4,14,14,14,6,6,24,24,29,36,36,36,36,33,26,21,13,24,19,16,60,60,58,73,38,33,36,36,51,68,36,56,58,51,28,29,34,56,87,78,73,73,51,41,58,63,52,75,69,60,25,21,29,38,73,54,24,11,4,2]
profile_1d_total = [3,2,2,34,47,41,46,53,63,31,65,14,9,19,19,51,34,37,9,21,53,53,63,73,83,97,62,73,57,41,25,46,41,46,75,123,117,132,71,73,60,73,95,132,83,96,100,80,44,53,62,97,152,159,169,149,90,80,107,123,98,133,131,128,69,65,58,81,140,101,38,28,9,5]
stop_1d_red_bar = [1.8,4,4.9,14,16,18.1,23.9,25.1,26.8,29.3,30.9,43.1,44.1,50.2,52.4,60.2,62.3,83.4]
stop_1d_red_price = [152.06,152.06,150.97,150.97,146.28,145.27,145.27,144.69,144.56,144.16,140.71,140.71,138.33,138.33,135.94,135.94,133.74,133.69]
stop_1d_green_bar = [84.5,86.7,88.8,91.2,92.9,94.5]
stop_1d_green_price = [128.18,129.45,129.85,130.91,131.7,131.75]
env_1d_pink1_bar = [15.6,16.9,21.8,26,30.9,35]
env_1d_pink1_price = [154.97,152.64,152.11,149.46,145.22,141.51]
env_1d_pink2_bar = [24.5,38.3,52.4,59.8,68.1,79.7,89.6,94.5]
env_1d_pink2_price = [141.24,141.11,141.38,140.85,139.92,138.06,136.87,136.34]
env_1d_pink3_bar = [21.8,25.1,30.1,33.4,39.2,46.6,52.4,59.8,67.3,75.5,83,87.9,92.1]
env_1d_pink3_price = [154.97,154.23,149.99,147.34,142.83,139.65,138.59,136.74,134.35,132.76,133.82,137.27,139.12]
env_1d_green1_bar = [9.4,13.6,17.7,23.5,31.7,46.6,53.2,65.6,79.7,86.3,94.5]
env_1d_green1_price = [145.48,143.63,134.62,132.23,131.44,128.8,127.73,126.8,127.33,128.12,129.05]
env_1d_green2_bar = [66.4,79.7,87.9,94.5]
env_1d_green2_price = [124.81,125.6,126.14,126.4]
env_1d_green3_bar = [73.1,79.7,87.9,94.5]
env_1d_green3_price = [131.97,129.71,131.44,133.16]
trend_1d_bars = [[1.2,77.6],[1,72.2],[1.2,59]]
trend_1d_prices = [[151.84,127.46],[143.23,124.73],[147.34,124.73]]
path_1d_bars = [85.5,87.4,89.6,92.2,95.4,103.2]
path_1d_prices = [135.41,133.03,135.68,133.95,137.66,124.73]
cci_1d_bar = [-0.3,1,2.1,4,5.3,7,9.4,11.2,13.1,15,17.7,20.2,21.4,23.1,25.1,26.8,28.4,29.3,32.6,35.9,38.3,40.2,41.7,43.1,45.8,47.9,49.3,52.4,54.2,57.4,58.4,59.8,61.9,64.4,67.3,69.3,72.4,74.7,76.4,77.6,78.4,80.1,82.2,84.5,85.5,87.1,89.6,91.2,92.4,93.6,94.5]
cci_1d_value = [92,34,48,14,9,26,9,-19,-30,-54,-54,-41,-47,-47,-58,-47,-47,-52,-17,-28,-43,-4,-13,-43,-10,-32,-19,-43,-21,-36,7,-2,-33,-43,3,-28,-14,-30,31,39,23,20,14,42,34,42,64,62,42,81,68]
stoch_1d_fg_bar = [-0.3,2,3.6,5.7,8.2,12.7,15.2,19.8,23.5,31.7,33.8,37.5,41.7,46.6,49.9,53.2,56.1,59.8,63.1,68.1,72.2,76,78,80.9,84.2,88.8,94.5]
stoch_1d_fg_value = [100,48,11,7,25,3,14,14,45,18,68,79,92,32,62,27,86,75,14,86,93,73,89,73,100,99,96]
stoch_1d_fr_bar = [-0.3,2.8,4.9,8.2,13.6,20.2,24.3,32.5,34.6,38.4,42.5,47.4,50.7,54,56.9,60.7,64,69,73,76.8,78.9,81.7,85,89.6,94.5]
stoch_1d_fr_value = [89,41,18,26,7,14,41,21,62,79,89,34,59,30,82,73,21,86,89,75,86,75,96,100,82]
stoch_1d_sg_bar = [-0.3,5.3,12.7,21.8,31.7,42.5,54.9,71.4,79.7,86.3,94.5]
stoch_1d_sg_value = [96,82,41,18,11,11,4,11,27,82,100]
stoch_1d_sr_bar = [-0.3,9.4,17.7,26,38.3,54.9,71.4,83.8,94.5]
stoch_1d_sr_value = [89,82,41,14,4,4,7,34,82]

# time axis labels
ticks_4h_bar = [7.7,20.9,38.7,53.9,69,83.9,98.8,116.6,140.7,158.8,173.9,188.7,203.9,218.8,236.8,260.7,278.4,293.4,308.9,323.6,342.2,356.8]
ticks_4h_label = ["2023","4","9","13:00","16","13:00","23","26","Feb","6","13:00","13","13:00","20","23","Mar","6","13:00","13","13:00","20","23"]
ticks_1w_bar = [0.8,18.1,35.2,52.1,70.1,87.2,104.1]
ticks_1w_label = ["ay","Sep","2022","May","Sep","2023","May"]
ticks_1d_bar = [7.9,30,52.1,74.3,94.4]
ticks_1d_label = ["Nov","Dec","2023","Feb","Mar"]

GREEN, RED = "#0a7f0a", "#ff0000"
FAINT = "#d6d8de"
TICK_DARK = "#5d606b"


def px_axes(fig, x0, y0, x1, y1, **kw):
    return fig.add_axes([x0 / W, 1 - y1 / H, (x1 - x0) / W, (y1 - y0) / H], **kw)


def pane(fig, box, xlim, ylim, side_color, side_left="#787b86"):
    ax = px_axes(fig, *box)
    ax.patch.set_alpha(0)
    ax.set_xlim(*xlim)
    ax.set_ylim(*ylim)
    for s in ["top", "bottom"]:
        ax.spines[s].set_visible(False)
    ax.spines["right"].set_color(side_color)
    ax.spines["left"].set_color(side_left)
    ax.spines["right"].set_linewidth(0.9)
    ax.spines["left"].set_linewidth(0.9)
    ax.set_xticks([])
    ax.yaxis.tick_right()
    ax.tick_params(axis="y", length=0, pad=7.5)
    ax.tick_params(axis="x", length=0, pad=6)
    return ax


def candles(ax, o, c, h, l, width=0.85):
    o, c, h, l = map(np.array, (o, c, h, l))
    x = np.arange(len(o))
    up = c >= o
    ax.vlines(x, l, h, color="black", lw=0.85, zorder=5)
    ax.bar(x, np.maximum(np.abs(c - o), 0.015 * (ax.get_ylim()[1] - ax.get_ylim()[0]) / 12), bottom=np.minimum(o, c),
           width=width, color=np.where(up, GREEN, RED).tolist(), linewidth=0, zorder=6)


def profile(ax, price, up, total, dark, height, bar_px):
    x0 = ax.get_xlim()[0]
    price, up, total = map(np.array, (price, up, total))
    ax.barh(price, up / bar_px, left=x0, height=height, linewidth=0, zorder=2,
            color=np.where(dark, "#82c786", "#d3ead5").tolist())
    ax.barh(price, (total - up) / bar_px, left=x0 + up / bar_px, height=height, linewidth=0, zorder=2,
            color=np.where(dark, "#f87c76", "#ffd0d0").tolist())


def oscillator(ax, bars, values, lw=2.4):
    pts = np.column_stack([bars, values])
    segs = np.stack([pts[:-1], pts[1:]], axis=1)
    mids = (pts[:-1, 1] + pts[1:, 1]) / 2
    cols = ["#84c48a" if m >= 0 else "#f58a80" for m in mids]
    ax.add_collection(LineCollection(segs, colors=cols, linewidths=lw, capstyle="round", zorder=4))


def stoch_band(ax, right_bar):
    x0, x1 = ax.get_xlim()
    ax.hlines(80, x0, x1, color="#f23645", lw=0.8, zorder=2)
    ax.hlines(20, x0, x1, color="#4caf50", lw=0.8, zorder=2)
    ax.fill_between([x0, x1], 38, 50, color="#f2f3f6", lw=0, zorder=1)
    ax.hlines(50, x0, x1, color="#666666", lw=1.2, zorder=2)
    ax.hlines(38, x0, x1, color="#888888", lw=0.8, zorder=2)


def watermark(ax, x_bar, title, y_title, sub, y_sub):
    ax.text(x_bar, y_title, title, family="Roboto", fontsize=65, color="#dcdcdc", ha="center", va="center", zorder=1)
    ax.text(x_bar, y_sub, sub, family="Roboto", fontsize=33, color="#dcdcdc", ha="center", va="center", zorder=1)


def thin(ax, bars, prices, color, lw=0.8, alpha=1.0, z=3):
    ax.plot(bars, prices, color=color, lw=lw, alpha=alpha, zorder=z, solid_joinstyle="round")


def blue_path(ax, bars, prices):
    ax.plot(bars[:-1], prices[:-1], color="#2962ff", lw=0.8, alpha=0.85, zorder=7)
    ax.annotate("", xy=(bars[-1], prices[-1]), xytext=(bars[-2], prices[-2]),
                arrowprops=dict(arrowstyle="->", color="#2962ff", lw=0.8, alpha=0.85, shrinkA=0, shrinkB=0, mutation_scale=10),
                zorder=7)


fig = plt.figure(figsize=(W / 100, H / 100), dpi=100, facecolor="#1e222d")

# white panels under everything
chrome = fig.add_axes([0, 0, 1, 1], zorder=-1)
chrome.set_xlim(0, W)
chrome.set_ylim(H, 0)
chrome.axis("off")
chrome.add_patch(Rectangle((10, 27), 2215, 1204, fc="white", ec="#787b86", lw=0.7))
chrome.add_patch(Rectangle((2229, 27), 751, 602, fc="white", ec="#787b86", lw=0.7))
chrome.add_patch(Rectangle((2229, 635), 751, 598, fc="white", ec="#787b86", lw=0.7))
chrome.hlines([1013, 1125], 10, 2225, color="#e0e3eb", lw=1.1)
chrome.hlines(1204, 10, 2225, color="#787b86", lw=0.8)
chrome.hlines([495, 563, 602], 2229, 2980, color="#2a2e39", lw=0.9)
chrome.hlines([1100, 1168, 1206], 2229, 2980, color="#2a2e39", lw=0.9)
chrome.vlines(63, 1204, 1231, color="#787b86", lw=0.8)
chrome.vlines(2160, 1204, 1231, color="#cfd1d8", lw=0.8)
chrome.vlines([2284, 2916], 602, 629, color="#2a2e39", lw=0.8)
chrome.vlines([2284, 2912.5], 1206, 1233, color="#2a2e39", lw=0.8)

# ---- 4h chart
bar_4h = 5.83
xlim_4h = (-0.34, 359.35)
main = pane(fig, (63, 27, 2160, 1013), xlim_4h, (126.267, 138.096), "#cfd1d8")
rsi = pane(fig, (63, 1013, 2160, 1125), xlim_4h, (-103.3, 83.3), "#cfd1d8")
sto = pane(fig, (63, 1125, 2160, 1204), xlim_4h, (-11.1, 114.3), "#cfd1d8")

dark_rows = np.arange(100)
dark_rows = (dark_rows >= 42) & (dark_rows < 88)
watermark(main, 179.6, "USDJPY, 4h", 132.74, "U.S. Dollar / Japanese Yen", 131.5)
profile(main, profile_4h_price, profile_4h_up, profile_4h_total, dark_rows, 0.086, bar_4h)

thin(main, env_pink1_bar, env_pink1_price, "#ffdcdc")
thin(main, env_pink2_bar, env_pink2_price, "#ffe3e3")
thin(main, env_green1_bar, env_green1_price, "#dff0e0")
thin(main, env_green2_bar, env_green2_price, "#e2f1e2")
thin(main, step_red_bar, step_red_price, "#ffb9b9", 1.1)
thin(main, step_orange_bar, step_orange_price, "#ffdcae", 1.1)
thin(main, step_green_bar, step_green_price, "#c7e5c8", 1.1)
thin(main, trail_green_bar, trail_green_price, "#c7e5c8", 1.1)
thin(main, stop_green_bar, stop_green_price, "#c7e5c8", 1.1)
for seg_b, seg_p in zip(stop_red_segments_bar, stop_red_segments_price):
    thin(main, seg_b, seg_p, "#ffb9b9", 1.0)
for tb, tp in zip(trend_bars[:2], trend_prices[:2]):
    thin(main, tb, tp, "#c8c9d2", 1.2)
for tb, tp in zip(trend_bars[2:], trend_prices[2:]):
    thin(main, tb, tp, "#d3d4da", 0.8)

end_4h = xlim_4h[1]
main.hlines(135.726, *xlim_4h, color="#e53030", lw=0.9, linestyle=(0, (1, 1.6)), zorder=4)
for price, col, lbl in zip(box_prices, box_colors, box_labels):
    main.hlines(price, 139.6, 276.7, color=col, lw=1.6, zorder=4)
for price, col, lbl in zip(box_prices, box_text_colors, box_labels):
    main.text(138.4, price, lbl, color=col, fontsize=8.5, ha="right", va="center", zorder=4)
main.hlines(135.64, 138.8, 246.8, color="#ec9af4", lw=1.6, zorder=4)
main.hlines(135.64, 246.8, 276.7, color="black", lw=1.1, zorder=4)
main.hlines(137.34, 246.8, 276.7, color="black", lw=1.1, zorder=4)
main.hlines(134.75, 246.8, 276.7, color="black", lw=0.9, zorder=4)
main.hlines(133.03, 246.8, 276.7, color="black", lw=0.9, zorder=4)
main.hlines(132.16, 7.9, end_4h, color="black", lw=1.2, zorder=4)
main.hlines([136.77, 135.3], 258.7, end_4h, color="#2ed58a", lw=1.0, zorder=4)
main.hlines(133.71, 246.8, end_4h, color="#ff9800", lw=1.1, zorder=4)
main.hlines(130.18, *xlim_4h, color="#ff0000", lw=1.6, zorder=5)
main.hlines(129.83, 139.6, 276.7, color="#f23645", lw=1.5, zorder=4)
main.text(138.4, 129.82, "(129.820)", color="#f58a8a", fontsize=8.5, ha="right", va="center", zorder=4)
main.hlines(128.09, 138.8, 258.7, color="#e9a0f0", lw=1.5, zorder=4)
main.hlines(127.65, 258.7, end_4h, color="#e9a0f0", lw=1.5, zorder=4)
for lbl, price in zip(["R1", "P", "S1", "S2", "S3"], [137.34, 135.64, 134.75, 133.03, 132.14]):
    main.text(244.4, price, lbl, fontsize=7.5, color="#333333", ha="center", va="center", zorder=8)
main.text(5.7, 132.17, "P", fontsize=7.5, color="#333333", ha="center", va="center", zorder=8)
for lbl, price, col in zip(fib_labels, fib_prices, fib_colors):
    main.hlines(price, 53.9, 65.9, color=col, lw=1.0, zorder=4)
    main.text(52.3, price, lbl, color=col, fontsize=8.5, ha="right", va="center", zorder=4)
main.text(266.4, 137.53, "Target Level", fontsize=10.5, color="#4caf50", fontweight="bold", fontstyle="italic", ha="center", va="center")
main.text(265.9, 129.65, "Invalidation Level", fontsize=10.5, color="#f23645", fontweight="bold", fontstyle="italic", ha="center", va="center")

candles(main, open_4h, close_4h, high_4h, low_4h)
main.scatter(dots_red_bar, dots_red_price, s=60, color="#f87c80", alpha=0.65, lw=0, zorder=7)
main.scatter(dots_green_bar, dots_green_price, s=60, color="#7cc47f", alpha=0.7, lw=0, zorder=7)
blue_path(main, path_bars, path_prices)
main.set_yticks(np.arange(126.5, 137.6, 0.5))
main.set_yticklabels([f"{v:.3f}" for v in np.arange(126.5, 137.6, 0.5)], fontsize=7.8, color=FAINT)

oscillator(rsi, cci_4h_bar, cci_4h_value)
rsi.hlines(0, xlim_4h[0], 260.7, color="#8a8a90", lw=1.5, zorder=3)
rsi.plot([163.8, 259.9], [70, 35], color="#cfd0da", lw=1.4, zorder=3)
rsi.set_yticks([50, 0, -50, -100])
rsi.set_yticklabels(["50.000", "0.000", "−50.000", "−100.000"], fontsize=7.8, color=FAINT)

stoch_band(sto, 260.7)
sto.plot(fast_g_bar, fast_g_value, color="#3c9a40", lw=0.7, zorder=4)
sto.plot(fast_r_bar, fast_r_value, color="#f23c30", lw=0.7, zorder=4)
sto.plot(slow_g_bar, slow_g_value, color="#3c9a40", lw=0.8, zorder=4)
sto.plot(slow_r_bar, slow_r_value, color="#f23c30", lw=0.9, zorder=4)
sto.set_yticks([80, 40])
sto.set_yticklabels(["80.00", "40.00"], fontsize=7.8, color=FAINT)
for v, t in zip([100, 50, 0], ["100.00", "50.00", "0.00"]):
    sto.text(-0.007, v, t, transform=sto.get_yaxis_transform(), fontsize=7.8, color=FAINT, ha="right", va="center")
sto.set_xticks(ticks_4h_bar)
sto.set_xticklabels(ticks_4h_label, fontsize=7.8, color=FAINT)

# ---- weekly chart
bar_1w = 5.943
xlim_1w = (-0.55, 105.8)
wk = pane(fig, (2284, 27, 2916, 495), xlim_1w, (103.26, 157.4), "#2a2e39", "#2a2e39")
wk_rsi = pane(fig, (2284, 495, 2916, 563), xlim_1w, (-75.7, 108), "#2a2e39", "#2a2e39")
wk_sto = pane(fig, (2284, 563, 2916, 602), xlim_1w, (-11.6, 113.8), "#2a2e39", "#2a2e39")
watermark(wk, 50.5, "USDJPY, 1W", 134.6, "U.S. Dollar / Japanese Yen", 123.9)
wk_dark = (np.array(profile_1w_price) <= 150.2) & (np.array(profile_1w_price) >= 123.8)
profile(wk, profile_1w_price, profile_1w_up, profile_1w_total, wk_dark, 0.38, bar_1w)
thin(wk, env_1w_pink_bar, env_1w_pink_price, "#ffdcdc")
thin(wk, env_1w_pink2_bar, env_1w_pink2_price, "#ffdcdc")
thin(wk, env_1w_green_bar, env_1w_green_price, "#dff0e0")
thin(wk, env_1w_green2_bar, env_1w_green2_price, "#dff0e0")
for tb, tp in zip(trend_1w_bars, trend_1w_prices):
    thin(wk, tb, tp, "#cfd0da", 0.9)
thin(wk, stop_1w_red_bar, stop_1w_red_price, "#f87c76", 1.0)
thin(wk, [65.1, 68], [140.5, 140.5], "#f87c76", 1.0)
thin(wk, stop_1w_green_bar, stop_1w_green_price, "#5eb463", 1.0)
thin(wk, stop_1w_green2_bar, stop_1w_green2_price, "#5eb463", 1.0)
wk.hlines(148.6, xlim_1w[0], 84.3, color="#388e3c", lw=1.6, zorder=4)
wk.hlines([137.98, 129.5], xlim_1w[0], 84.3, color="#c9d6ea", lw=1.6, zorder=3)
wk.hlines(134.96, *xlim_1w, color="#ff0000", lw=1.6, zorder=5)
wk.hlines(132.13, 87, xlim_1w[1], color="black", lw=1.1, zorder=4)
wk.hlines(135.725, *xlim_1w, color="#0a7f0a", lw=0.9, linestyle=(0, (1, 1.6)), zorder=4)
wk.text(85, 132.13, "P", fontsize=7.5, color="#333333", ha="center", va="center", zorder=8)
candles(wk, open_1w, close_1w, high_1w, low_1w, width=0.85)
wk.scatter([79.2, 65.1], [153.27, 140.5], s=60, color="#f87c80", alpha=0.65, lw=0, zorder=7)
wk.scatter([69.1], [130.9], s=60, color="#7cc47f", alpha=0.8, lw=0, zorder=7)
blue_path(wk, path_1w_bars, path_1w_prices)
wk.set_yticks(np.arange(104, 153, 4))
wk.set_yticklabels([f"{v:.3f}" for v in np.arange(104, 153, 4)], fontsize=8.4, color=TICK_DARK)

oscillator(wk_rsi, cci_1w_bar, cci_1w_value)
wk_rsi.hlines(0, xlim_1w[0], 95.3, color="#8a8a90", lw=1.5, zorder=3)
wk_rsi.set_yticks([100, 0])
wk_rsi.set_yticklabels(["100.000", "0.000"], fontsize=8.4, color=TICK_DARK)
stoch_band(wk_sto, 95.3)
wk_sto.plot(stoch_1w_fg_bar, stoch_1w_fg_value, color="#3c9a40", lw=0.7, zorder=4)
wk_sto.plot(stoch_1w_fr_bar, stoch_1w_fr_value, color="#f23c30", lw=0.7, zorder=4)
wk_sto.plot(stoch_1w_sg_bar, stoch_1w_sg_value, color="#3c9a40", lw=0.8, zorder=4)
wk_sto.plot(stoch_1w_sr_bar, stoch_1w_sr_value, color="#f23c30", lw=0.9, zorder=4)
wk_sto.set_yticks([100])
wk_sto.set_yticklabels(["100.00"], fontsize=8.4, color=TICK_DARK)
for v, t in zip([100, 0], ["100.00", "0.00"]):
    wk_sto.text(-0.015, v, t, transform=wk_sto.get_yaxis_transform(), fontsize=8.4, color=TICK_DARK, ha="right", va="center")
wk_sto.set_xticks(ticks_1w_bar)
wk_sto.set_xticklabels(ticks_1w_label, fontsize=8.4, color=TICK_DARK)
wk_sto.get_xticklabels()[2].set_fontweight("bold")
wk_sto.get_xticklabels()[5].set_fontweight("bold")

# ---- daily chart
bar_1d = 5.943
xlim_1d = (-0.47, 105.3)
dy = pane(fig, (2284, 635, 2912.5, 1100), xlim_1d, (124.72, 154.96), "#2a2e39", "#2a2e39")
dy_rsi = pane(fig, (2284, 1100, 2912.5, 1168), xlim_1d, (-74.7, 110.6), "#2a2e39", "#2a2e39")
dy_sto = pane(fig, (2284, 1168, 2912.5, 1206), xlim_1d, (-11.6, 116), "#2a2e39", "#2a2e39")
watermark(dy, 52.5, "USDJPY, 1D", 142.8, "U.S. Dollar / Japanese Yen", 136.2)
dy_dark = np.array(profile_1d_price) <= 138.6
profile(dy, profile_1d_price, profile_1d_up, profile_1d_total, dy_dark, 0.21, bar_1d)
thin(dy, env_1d_pink1_bar, env_1d_pink1_price, "#ffdcdc")
thin(dy, env_1d_pink2_bar, env_1d_pink2_price, "#ffd4d4")
thin(dy, env_1d_pink3_bar, env_1d_pink3_price, "#ffdcdc")
thin(dy, env_1d_green1_bar, env_1d_green1_price, "#dff0e0")
thin(dy, env_1d_green2_bar, env_1d_green2_price, "#dff0e0")
thin(dy, env_1d_green3_bar, env_1d_green3_price, "#dff0e0")
for tb, tp in zip(trend_1d_bars, trend_1d_prices):
    thin(dy, tb, tp, "#cfd0da", 0.9)
thin(dy, stop_1d_red_bar, stop_1d_red_price, "#f87c76", 1.0)
thin(dy, stop_1d_green_bar, stop_1d_green_price, "#5eb463", 1.0)
right_1d = xlim_1d[1]
dy.hlines([148.11, 142.51, 139.25, 130.48], 94.5, right_1d, color="black", lw=0.8, zorder=4)
dy.hlines(124.84, 95, right_1d, color="black", lw=0.8, zorder=4)
dy.hlines([139.92, 135.65], 92.5, 97.4, color="black", lw=1.1, zorder=8)
dy.hlines([138.83, 133.69], 92.5, right_1d, color="#ffb74d", lw=1.3, zorder=4)
dy.hlines(132.1, 52.4, right_1d, color="black", lw=1.0, zorder=4)
dy.hlines(132.02, *xlim_1d, color="#ff0000", lw=1.7, zorder=5)
dy.hlines(135.68, *xlim_1d, color="#0a7f0a", lw=0.8, linestyle=(0, (1, 1.6)), zorder=4)
dy.hlines(135.65, 74.7, 94.5, color="#dc8af0", lw=1.0, zorder=4)
dy.hlines(128.07, 74.3, 94.5, color="#dc8af0", lw=1.0, zorder=4)
dy.vlines(94.5, 126.27, 144.42, color="#d67ff0", lw=1.0, zorder=4)
for lbl, bar, price in zip(["R3", "R2", "R3", "R1", "P", "P", "P", "S3", "S1", "S2"],
                           [92.9, 92.9, 90.8, 92.9, 90.4, 92.2, 50.1, 90.7, 92.7, 92.7],
                           [148.11, 142.51, 139.92, 139.25, 135.65, 133.69, 132.1, 132.1, 130.48, 124.84]):
    dy.text(bar, price, lbl, fontsize=7.8, color="#333333", ha="center", va="center", zorder=8)
candles(dy, open_1d, close_1d, high_1d, low_1d, width=0.85)
dy.scatter([1.8], [152.06], s=60, color="#f87c80", alpha=0.65, lw=0, zorder=7)
dy.scatter([84.5], [128.18], s=60, color="#7cc47f", alpha=0.8, lw=0, zorder=7)
blue_path(dy, path_1d_bars, path_1d_prices)
dy.set_yticks(np.arange(126, 153, 2))
dy.set_yticklabels([f"{v:.3f}" for v in np.arange(126, 153, 2)], fontsize=8.4, color=TICK_DARK)

oscillator(dy_rsi, cci_1d_bar, cci_1d_value)
dy_rsi.hlines(0, xlim_1d[0], 94.5, color="#8a8a90", lw=1.5, zorder=3)
dy_rsi.set_yticks([0])
dy_rsi.set_yticklabels(["0.000"], fontsize=8.4, color=TICK_DARK)
stoch_band(dy_sto, 94.5)
dy_sto.plot(stoch_1d_fg_bar, stoch_1d_fg_value, color="#3c9a40", lw=0.7, zorder=4)
dy_sto.plot(stoch_1d_fr_bar, stoch_1d_fr_value, color="#f23c30", lw=0.7, zorder=4)
dy_sto.plot(stoch_1d_sg_bar, stoch_1d_sg_value, color="#3c9a40", lw=0.8, zorder=4)
dy_sto.plot(stoch_1d_sr_bar, stoch_1d_sr_value, color="#f23c30", lw=0.9, zorder=4)
dy_sto.set_yticks([100, 0])
dy_sto.set_yticklabels(["100.00", "0.00"], fontsize=8.4, color=TICK_DARK)
dy_sto.text(-0.015, 100, "100.00", transform=dy_sto.get_yaxis_transform(), fontsize=8.4, color=TICK_DARK, ha="right", va="center")
dy_sto.set_xticks(ticks_1d_bar)
dy_sto.set_xticklabels(ticks_1d_label, fontsize=8.4, color=TICK_DARK)
dy_sto.get_xticklabels()[2].set_fontweight("bold")

# ---- things that sit on top of the panes, in figure pixels
top = fig.add_axes([0, 0, 1, 1], zorder=20)
top.set_xlim(0, W)
top.set_ylim(H, 0)
top.axis("off")
top.text(10, 14.5, "Tickmill published on TradingView.com, Mar 01, 2023 04:08 UTC-5", color="#d1d4dc", fontsize=8.6, va="center")
top.text(33, 1251, "TradingView", color="#d1d4dc", fontsize=9.5, va="center")
top.add_patch(Rectangle((10, 1245), 9, 3.5, fc="#d1d4dc", lw=0))
top.add_patch(Rectangle((14, 1245), 4, 12, fc="#d1d4dc", lw=0))
top.add_patch(Circle((22, 1247), 2, fc="#d1d4dc", lw=0))
top.add_patch(Polygon([[25, 1245], [29, 1245], [24, 1257], [20, 1257]], fc="#d1d4dc", lw=0))
for x, y, t in [(2170, 40, "JPY")]:
    top.text(x, y, t, color=FAINT, fontsize=7.8, va="center")
top.text(2926, 41, "JPY", color=TICK_DARK, fontsize=8.4, va="center")
top.text(2922, 648, "JPY", color=TICK_DARK, fontsize=8.4, va="center")

# last price tags
for x0, y0, x1, y1, col, t1, t2 in [(2160, 217.5, 2213, 247, "#ff0000", "135.726", "51:07"),
                                    (2916, 206, 2975, 237, "#0a7f0a", "135.725", "2d 13h"),
                                    (2912.5, 923, 2975, 954, "#0a7f0a", "135.726", "12:51:07")]:
    top.add_patch(Rectangle((x0, y0), x1 - x0, y1 - y0, fc=col, lw=0))
    top.text(x0 + 10, y0 + (y1 - y0) * 0.28, t1, color="white", fontsize=8.4, va="center", fontweight="bold")
    top.text(x0 + 10, y0 + (y1 - y0) * 0.73, t2, color="white", fontsize=8.4, va="center")

# flash icons
for x, y in [(1585, 1000), (2853.6, 482), (2848, 1087)]:
    top.add_patch(Circle((x, y), 10, fc="white", ec="#9c27b0", lw=1.1))
    top.text(x, y, "⚡", family="DejaVu Sans", color="#9c27b0", fontsize=8.5, ha="center", va="center")

# scale buttons
for x, y, t in [(37, 1217, "Z"), (2192, 1217, "A"), (2257, 615, "Z"), (2948, 615, "A"), (2257, 1219, "Z"), (2946, 1219, "A")]:
    top.add_patch(Circle((x, y), 9.5, fc="#f0f3fa", lw=0))
    top.text(x, y, t, color="#50535e", fontsize=8, ha="center", va="center")

fig.savefig("out.png", dpi=100, facecolor=fig.get_facecolor())
